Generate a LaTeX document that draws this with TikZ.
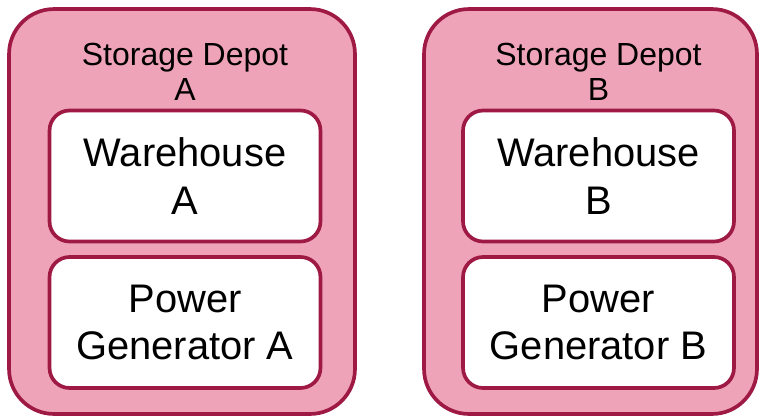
\documentclass[tikz,border=0pt]{standalone}
\usepackage{fontspec}
\setmainfont{Liberation Sans}
\usetikzlibrary{positioning}
\definecolor{dFill}{HTML}{EFA3B8}
\definecolor{dLine}{HTML}{9E1A44}

\begin{document}
\begin{tikzpicture}[x=0.02cm, y=-0.02cm,
      depot/.style={draw=dLine, fill=dFill, line width=2.1pt, rounded corners=0.9cm,
        minimum height=8.1cm, inner sep=0pt},
      unit/.style={draw=dLine, fill=white, line width=2.1pt, rounded corners=0.4cm,
        minimum width=5.42cm, minimum height=2.62cm, align=center,
        font=\fontsize{22.7}{27}\selectfont},
      title/.style={align=center, font=\fontsize{18.2}{20}\selectfont}]
    \useasboundingbox (0,0) rectangle (759,416);
    % depot / outer x / outer width / inner x
    \foreach \n/\ox/\ow/\ix in {A/182/6.92cm/185, B/590.5/6.66cm/598.5} {
      \node[depot, minimum width=\ow] (depot\n) at (\ox,211.5) {};
      \node[title] (title\n) at (\ix,72) {Storage Depot\\\n};
      \node[unit] (ware\n) at (\ix,176) {Warehouse\\\n};
      \node[unit] (power\n) at (\ix,322.5) {Power\\Generator \n};
    }
  \end{tikzpicture}
\end{document}
